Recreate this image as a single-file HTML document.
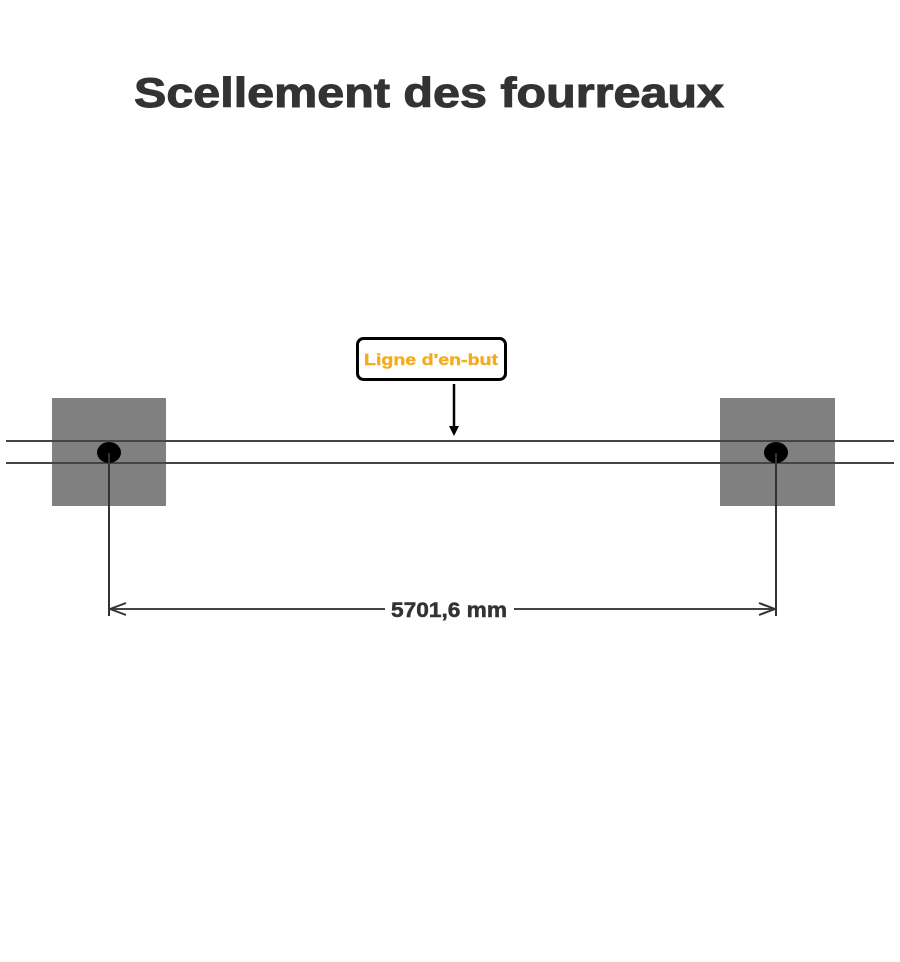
<!DOCTYPE html>
<html><head><meta charset="utf-8"><style>
html,body{margin:0;padding:0;background:#fff;}
svg{display:block;}
</style></head><body>
<svg width="900" height="962" viewBox="0 0 900 962" xmlns="http://www.w3.org/2000/svg">
<rect width="900" height="962" fill="#fff"/>
<text x="134" y="107" font-family="Liberation Sans, sans-serif" font-weight="bold" font-size="42" fill="#333" stroke="#333" stroke-width="1" textLength="590" lengthAdjust="spacingAndGlyphs">Scellement des fourreaux</text>
<rect x="52" y="398" width="114" height="108" fill="#808080"/>
<rect x="720" y="398" width="115" height="108" fill="#808080"/>
<line x1="6" y1="441" x2="894" y2="441" stroke="#444" stroke-width="2"/>
<line x1="6" y1="463" x2="894" y2="463" stroke="#444" stroke-width="2"/>
<ellipse cx="109" cy="452.5" rx="12" ry="10.5" fill="#000"/>
<ellipse cx="776" cy="452.5" rx="12" ry="10.5" fill="#000"/>
<line x1="109" y1="453" x2="109" y2="616" stroke="#333" stroke-width="2"/>
<line x1="776" y1="453" x2="776" y2="616" stroke="#333" stroke-width="2"/>
<line x1="110" y1="609" x2="385" y2="609" stroke="#444" stroke-width="2"/>
<line x1="514" y1="609" x2="775" y2="609" stroke="#444" stroke-width="2"/>
<path d="M110 609 L126 603 M110 609 L126 615" stroke="#333" stroke-width="2" fill="none"/>
<path d="M775 609 L759 603 M775 609 L759 615" stroke="#333" stroke-width="2" fill="none"/>
<text x="449" y="617" text-anchor="middle" font-family="Liberation Sans, sans-serif" font-weight="bold" font-size="21" fill="#333" stroke="#333" stroke-width="0.5" textLength="116" lengthAdjust="spacingAndGlyphs">5701,6 mm</text>
<rect x="357.5" y="338.5" width="148" height="41" rx="6" fill="#fff" stroke="#000" stroke-width="3"/>
<text x="431" y="365" text-anchor="middle" font-family="Liberation Sans, sans-serif" font-weight="bold" font-size="16" fill="#f5ab1c" stroke="#f5ab1c" stroke-width="0.4" textLength="134" lengthAdjust="spacingAndGlyphs">Ligne d'en-but</text>
<line x1="454" y1="384" x2="454" y2="428" stroke="#000" stroke-width="2.5"/>
<path d="M449 426 L459 426 L454 436 Z" fill="#000"/>
</svg>
</body></html>
